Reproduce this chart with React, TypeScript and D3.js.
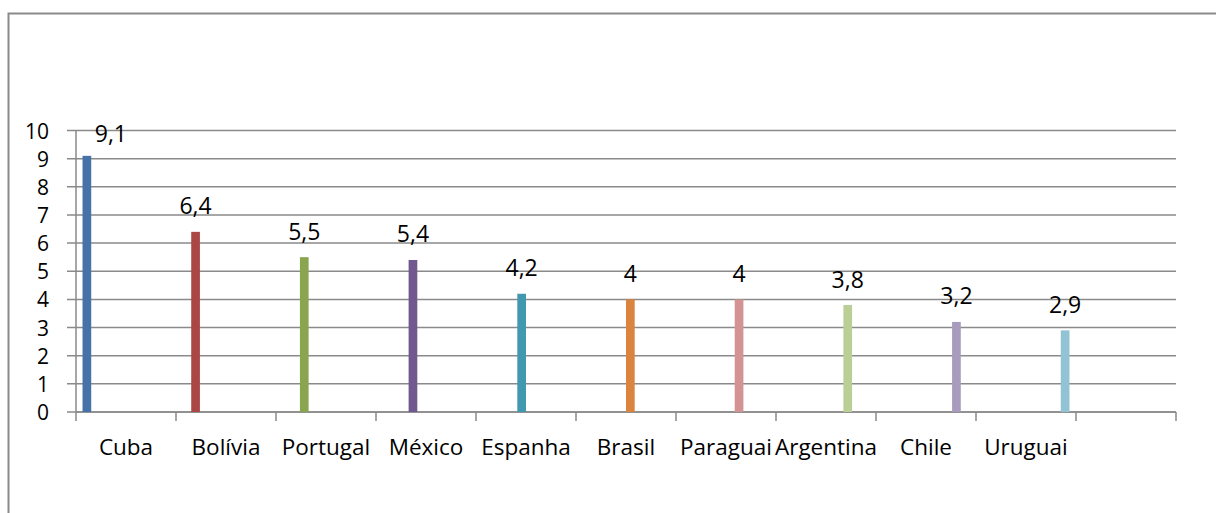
import React from "react";
import * as d3 from "d3";

// Countries and their values (one bar per country)
const countries = [
  "Cuba",
  "Bolívia",
  "Portugal",
  "México",
  "Espanha",
  "Brasil",
  "Paraguai",
  "Argentina",
  "Chile",
  "Uruguai",
];
const values = [9.1, 6.4, 5.5, 5.4, 4.2, 4, 4, 3.8, 3.2, 2.9];
const valueLabels = ["9,1", "6,4", "5,5", "5,4", "4,2", "4", "4", "3,8", "3,2", "2,9"];
// Category slots along the x axis; the last slot is empty
const categories = [...countries, ""];
const yTicks = [0, 1, 2, 3, 4, 5, 6, 7, 8, 9, 10];
const colors = [
  "#4572A7",
  "#AA4643",
  "#89A54E",
  "#71588F",
  "#4198AF",
  "#DB843D",
  "#D29392",
  "#B9CF96",
  "#A99BBD",
  "#92C3D4",
];

const W = 1216;
const H = 513;
const plot = { left: 76, right: 1176, top: 130.5, bottom: 412 };
const font = "'Open Sans', 'Liberation Sans', sans-serif";
const gridColor = "#8a8a8a";

export default function App() {
  const y = d3.scaleLinear().domain([0, 10]).range([plot.bottom, plot.top]);
  const x = d3
    .scaleBand<number>()
    .domain(d3.range(categories.length))
    .range([plot.left, plot.right])
    .padding(0);
  // each country is its own series inside a category slot
  const sub = d3
    .scaleBand<string>()
    .domain(countries)
    .range([0, x.bandwidth()])
    .paddingInner(0)
    .paddingOuter(0.75);

  const tickXs = d3.range(categories.length + 1).map((i) => plot.left + i * x.step());

  return (
    <svg
      width={W}
      height={H}
      style={{ position: "absolute", left: 0, top: 0, background: "#fff" }}
    >
      <rect x={8.5} y={13.5} width={1400} height={700} fill="#fff" stroke={gridColor} strokeWidth={2} />

      {/* horizontal gridlines, extended left as y tick marks */}
      {yTicks.map((t) => (
        <line
          key={"g" + t}
          x1={plot.left - 9}
          x2={plot.right}
          y1={y(t)}
          y2={y(t)}
          stroke={gridColor}
          strokeWidth={1.5}
        />
      ))}

      {/* y axis */}
      <line x1={plot.left} x2={plot.left} y1={plot.top} y2={plot.bottom} stroke={gridColor} strokeWidth={1.5} />
      {yTicks.map((t) => (
        <text
          key={"yt" + t}
          x={49}
          y={y(t)}
          textAnchor="end"
          dominantBaseline="central"
          fontFamily={font}
          fontSize={21}
          fill="#000"
        >
          {t}
        </text>
      ))}

      {/* x axis with tick marks at slot boundaries */}
      <line x1={plot.left} x2={plot.right} y1={plot.bottom} y2={plot.bottom} stroke={gridColor} strokeWidth={1.5} />
      {tickXs.map((tx, i) => (
        <line
          key={"xt" + i}
          x1={tx}
          x2={tx}
          y1={plot.bottom}
          y2={plot.bottom + 9}
          stroke={gridColor}
          strokeWidth={1.5}
        />
      ))}
      {categories.map((c, i) => (
        <text
          key={"xl" + i}
          x={(x(i) as number) + x.bandwidth() / 2}
          y={455}
          textAnchor="middle"
          fontFamily={font}
          fontSize={22.5}
          fill="#000"
        >
          {c}
        </text>
      ))}

      {/* bars */}
      {countries.map((c, i) => (
        <rect
          key={"b" + c}
          x={(x(i) as number) + (sub(c) as number)}
          y={y(values[i])}
          width={sub.bandwidth()}
          height={y(0) - y(values[i])}
          fill={colors[i]}
        />
      ))}

      {/* value labels; the first one is nudged right, clear of the axis */}
      {countries.map((c, i) => {
        const cx = (x(i) as number) + (sub(c) as number) + sub.bandwidth() / 2;
        const dx = i === 0 ? 24 : 0;
        const dy = i === 0 ? -13.5 : -17.5;
        return (
          <text
            key={"v" + c}
            x={cx + dx}
            y={y(values[i]) + dy}
            textAnchor="middle"
            fontFamily={font}
            fontSize={23}
            fill="#000"
          >
            {valueLabels[i]}
          </text>
        );
      })}
    </svg>
  );
}
